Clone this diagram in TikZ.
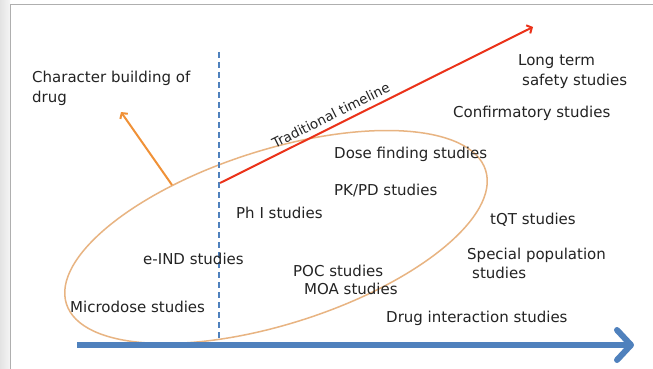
\documentclass[tikz,border=0pt]{standalone}
\usepackage{fontspec}
\setmainfont{DejaVu Sans}
\usetikzlibrary{arrows.meta}
\definecolor{txt}{RGB}{35,35,35}
\definecolor{axisblue}{RGB}{79,129,189}
\definecolor{tlred}{RGB}{235,50,25}
\definecolor{orng}{RGB}{240,145,55}
\definecolor{ellc}{RGB}{232,180,130}
\definecolor{framec}{RGB}{175,175,175}
\begin{document}
\begin{tikzpicture}[x=1pt,y=-1pt,
  lbl/.style={font=\fontsize{15}{19.5}\selectfont, text=txt, inner sep=0pt, anchor=base west},
  lbl2/.style={font=\fontsize{15}{19.5}\selectfont, text=txt, inner sep=0pt, anchor=west, align=left},
  conn/.style={line width=2pt, -{Straight Barb[length=4pt,width=9pt]}}
 ]
\useasboundingbox (0,0) rectangle (653,369);
\fill[white] (0,0) rectangle (653,369);
\shade[left color=gray!22, right color=gray!8] (0,0) rectangle (10,369);
\draw[framec, line width=1pt] (10,369) -- (10,5) -- (653,5);

% ellipse
\draw[ellc, line width=1.5pt, rotate around={17.7:(276,237)}] (276,237) ellipse [x radius=220, y radius=87];

% dashed divider
\coordinate (d0) at (219,52);
\coordinate (d1) at (219,342);
\draw[axisblue, line width=1.5pt, dash pattern=on 6pt off 4pt] (d0) -- (d1);

% time axis
\coordinate (ax0) at (77,345);
\coordinate (ax1) at (634,345);
\draw[axisblue, line width=6pt, -{Straight Barb[length=14pt,width=30pt,round]}] (ax0) -- (ax1);

% traditional timeline
\coordinate (r0) at (220,183);
\coordinate (r1) at (533,27);
\draw[tlred, conn] (r0) -- (r1)
  node[pos=0.37, sloped, above=5pt, font=\fontsize{13.5}{16}\selectfont, text=txt, inner sep=0pt] (tl) {Traditional timeline};

% character building arrow
\coordinate (o0) at (172,185);
\coordinate (o1) at (121,112);
\draw[orng, conn] (o0) -- (o1);

% labels
\node[lbl2] (cb) at (32,88.5) {Character building of\\drug};
\node[lbl2] (lt) at (518,71.5) {Long term\\\hspace*{4pt}safety studies};
\node[lbl] (cs) at (453,117.5) {Confirmatory studies};
\node[lbl] (df) at (334,158.5) {Dose finding studies};
\node[lbl] (pk) at (334,195.5) {PK/PD studies};
\node[lbl] (ph) at (236,218.5) {Ph I studies};
\node[lbl] (tq) at (490,224.5) {tQT studies};
\node[lbl2] (sp) at (467,263.5) {Special population\\\hspace*{5pt}studies};
\node[lbl] (ei) at (143,264.5) {e-IND studies};
\node[lbl] (po) at (293,276.5) {POC studies};
\node[lbl] (mo) at (304,294.5) {MOA studies};
\node[lbl] (mi) at (70,312.5) {Microdose studies};
\node[lbl] (di) at (386,322.5) {Drug interaction studies};
\end{tikzpicture}
\end{document}
